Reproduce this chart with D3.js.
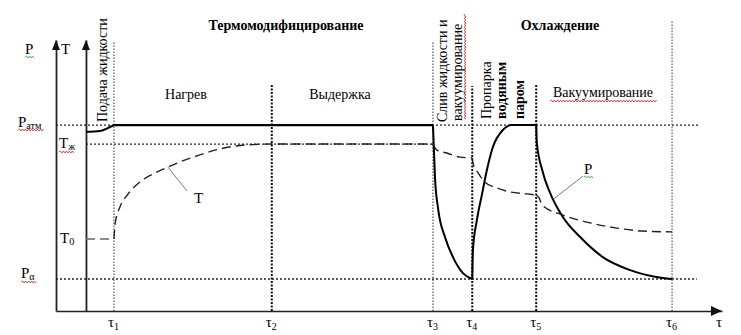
<!DOCTYPE html>
<html><head><meta charset="utf-8">
<script src="https://cdn.jsdelivr.net/npm/d3@7"></script>
<style>
body{margin:0;background:#fff}
svg{display:block}
text{font-family:"Liberation Serif","Times New Roman",serif;fill:#000}
</style>
</head><body>
<svg id="c" width="741" height="335"></svg>
<script>
// ---- data (time units 0..100, level units 0..100) ----
const tauSubs   = ["1","2","3","4","5","6"];
const tauValues = [8.7, 32.4, 56.6, 62.5, 72.1, 92.5];
const tauTops   = [99.3, 83.4, 99.3, 83.0, 83.4, 107];
const tauHeavy  = [false, true, false, true, true, false];
const tAxisT = 4.5;           // T axis position in time units
const levelPatm = 68.6, levelTzh = 61.6, levelT0 = 26.6, levelPa = 11.8;

// pressure curve segments [t, value]
const pStart = [[4.5,66.1],[6.6,66.4],[8.1,67.9],[8.7,68.6]];
const pHold  = [[8.7,68.6],[56.6,68.6]];
const pDrain = [[56.6,68.6],[56.9,49.4],[57.4,37.3],[58.4,27.3],[59.6,19.9],[61.1,14.0],[62.5,11.8]];
const pSteam = [[62.5,11.8],[62.6,22.5],[63.2,33.6],[64.0,43.5],[64.7,52.0],[65.6,60.5],[67.1,66.8],[67.9,68.3],[68.3,68.6],[72.1,68.6]];
const pVac   = [[72.1,68.6],[72.2,62.0],[73.0,52.0],[74.2,43.5],[76.1,34.7],[78.7,27.3],[82.1,19.9],[86.2,15.1],[91.1,12.2],[92.5,11.8]];
// temperature curve segments
const tInit  = [[4.5,26.6],[8.7,26.6]];
const tHeat  = [[8.7,26.6],[8.9,32.5],[9.6,38.4],[10.7,42.8],[12.6,47.6],[15.2,51.3],[16.8,53.1],[18.6,55.0],[21.6,57.6],[24.6,59.8],[28.7,61.3],[32.6,61.6],[56.6,61.6]];
const tDrain = [[56.6,61.6],[57.2,59.4],[58.7,58.3],[60.6,56.8],[62.5,56.5]];
const tSteam = [[62.5,56.5],[62.6,54.6],[63.4,50.9],[64.4,47.6],[66.2,45.4],[68.2,43.9],[70.7,43.2],[72.1,42.8]];
const tVac   = [[72.1,42.8],[72.5,41.9],[73.0,39.1],[76.1,35.4],[80.2,32.5],[84.2,30.6],[88.1,29.5],[92.5,29.2]];

const svg = d3.select("#c");
const x = d3.scaleLinear().domain([0,100]).range([56,722]);
const y = d3.scaleLinear().domain([0,100]).range([311,40]);
const line = d3.line().x(d=>x(d[0])).y(d=>y(d[1])).curve(d3.curveMonotoneX);
const lineLin = d3.line().x(d=>x(d[0])).y(d=>y(d[1]));

// ---- dotted reference lines ----
function hDot(t0,t1,v){
  svg.append("line").attr("x1",x(t0)).attr("x2",x(t1)).attr("y1",y(v)).attr("y2",y(v))
    .attr("stroke","#222").attr("stroke-width",1.3).attr("stroke-dasharray","2,2");
}
hDot(0, 96.7, levelPatm);
hDot(tAxisT, 56.6, levelTzh);
hDot(0, 96.2, levelPa);

tauValues.forEach((t,i)=>{
  svg.append("line").attr("x1",x(t)).attr("x2",x(t)).attr("y1",y(0)).attr("y2",y(tauTops[i]))
    .attr("stroke", tauHeavy[i] ? "#111" : "#555")
    .attr("stroke-width", tauHeavy[i] ? 2 : 1.2)
    .attr("stroke-dasharray", tauHeavy[i] ? "2,1.5" : "1.5,1.5");
});

// ---- axes ----
const xAxis = d3.axisBottom(x).tickValues(tauValues).tickSize(0).tickSizeOuter(0).tickPadding(0).tickFormat("");
const gx = svg.append("g").attr("transform",`translate(0,${y(0)})`).call(xAxis);
gx.select(".domain").attr("stroke","#222").attr("stroke-width",1.6);
gx.selectAll(".tick").each(function(d,i){
  const t = d3.select(this).select("text").attr("font-size",15).attr("font-family","Liberation Serif")
    .attr("fill","#000").attr("y",16).attr("dy",null).attr("dx","-1");
  t.append("tspan").text("τ");
  t.append("tspan").text(tauSubs[i]).attr("font-size",10).attr("dy","3");
});
[0, tAxisT].forEach(t=>{
  const g = svg.append("g").attr("transform",`translate(${x(t)},0)`).call(d3.axisLeft(y).tickValues([]).tickSizeOuter(0));
  g.select(".domain").attr("stroke","#222").attr("stroke-width",1.8);
  svg.append("path").attr("d",`M${x(t)-4},${y(100)+10}L${x(t)},${y(100)}L${x(t)+4},${y(100)+10}Z`).attr("fill","#111");
});
svg.append("path").attr("d",`M${x(100)-11},${y(0)-5}L${x(100)},${y(0)}L${x(100)-11},${y(0)+5}Z`).attr("fill","#111");
svg.append("text").attr("x",x(100)-6).attr("y",y(0)+16).attr("font-size",15).text("τ");

// ---- curves ----
[pStart,pDrain,pSteam,pVac].forEach(s=>{
  svg.append("path").attr("d",line(s)).attr("fill","none").attr("stroke","#000").attr("stroke-width",2);
});
svg.append("path").attr("d",lineLin(pHold)).attr("fill","none").attr("stroke","#000").attr("stroke-width",2.2);
svg.append("path").attr("d",lineLin(tInit)).attr("fill","none").attr("stroke","#666").attr("stroke-width",1.5).attr("stroke-dasharray","9,5");
[tHeat,tDrain,tSteam,tVac].forEach(s=>{
  svg.append("path").attr("d",line(s)).attr("fill","none").attr("stroke","#222").attr("stroke-width",1.4).attr("stroke-dasharray","9,5");
});

// ---- helpers ----
function wavy(x1,x2,yy,color){
  let d=`M${x1},${yy}`; let up=true;
  for(let xx=x1+1.5; xx<=x2; xx+=1.5){ d+=`L${xx},${yy+(up?-1:1)}`; up=!up; }
  svg.append("path").attr("d",d).attr("fill","none").attr("stroke",color).attr("stroke-width",0.8);
}
function wavyV(xx,y1,y2,color){
  let d=`M${xx},${y1}`; let up=true;
  for(let yy=y1+1.5; yy<=y2; yy+=1.5){ d+=`L${xx+(up?-1:1)},${yy}`; up=!up; }
  svg.append("path").attr("d",d).attr("fill","none").attr("stroke",color).attr("stroke-width",0.8);
}
function sub(px,py,main,s,size,color){
  const t = svg.append("text").attr("x",px).attr("y",py).attr("font-size",size).attr("fill",color||"#000");
  t.append("tspan").text(main);
  t.append("tspan").text(s).attr("font-size",size*0.68).attr("dy",2);
  return t;
}

// ---- axis labels ----
svg.append("text").attr("x",25).attr("y",54).attr("font-size",15).attr("fill","#9a5c0a").text("P");
wavy(25,34,57,"#3a3");
svg.append("text").attr("x",61).attr("y",54).attr("font-size",15).text("T");

sub(18,127,"P","атм",15);
wavy(18,44,130,"#d22");
sub(59,148,"T","ж",15,"#3a2a10");
wavy(59,75,152,"#d22");
sub(60,243,"T","0",15,"#1f4e6e");
sub(21,278,"P","α",15);
wavy(21,36,282,"#d22");

// curve labels and leaders
svg.append("line").attr("x1",x(16.8)).attr("y1",y(53.1)).attr("x2",187).attr("y2",191).attr("stroke","#555").attr("stroke-width",0.8);
svg.append("text").attr("x",194).attr("y",203).attr("font-size",15).attr("fill","#1a1208").text("T");
svg.append("line").attr("x1",x(74.7)).attr("y1",y(41.3)).attr("x2",583).attr("y2",176).attr("stroke","#555").attr("stroke-width",0.8);
svg.append("text").attr("x",584).attr("y",174).attr("font-size",15).attr("fill","#1a1208").text("P");
wavy(584,594,177,"#3a3");

// ---- section titles ----
svg.append("text").attr("x",286).attr("y",30).attr("font-size",14).attr("font-weight","bold").attr("text-anchor","middle").text("Термомодифицирование");
svg.append("text").attr("x",560).attr("y",30).attr("font-size",14).attr("font-weight","bold").attr("text-anchor","middle").text("Охлаждение");
svg.append("text").attr("x",186).attr("y",99).attr("font-size",14).attr("text-anchor","middle").text("Нагрев");
svg.append("text").attr("x",340).attr("y",99).attr("font-size",14).attr("text-anchor","middle").text("Выдержка");
svg.append("text").attr("x",603).attr("y",97).attr("font-size",14).attr("text-anchor","middle").text("Вакуумирование");
wavy(550,657,101,"#d22");

function vtext(bx,by,str,bold){
  svg.append("text").attr("transform",`translate(${bx},${by}) rotate(-90)`).attr("font-size",14)
    .attr("font-weight",bold?"bold":"normal").text(str);
}
vtext(107,122,"Подача жидкости");
vtext(447,122,"Слив жидкости и");
vtext(462,121,"вакуумирование");
wavyV(465,14,120,"#d22");
vtext(491,119,"Пропарка");
vtext(506,119,"водяным",true);
vtext(524,119,"паром",true);
</script>
</body></html>
